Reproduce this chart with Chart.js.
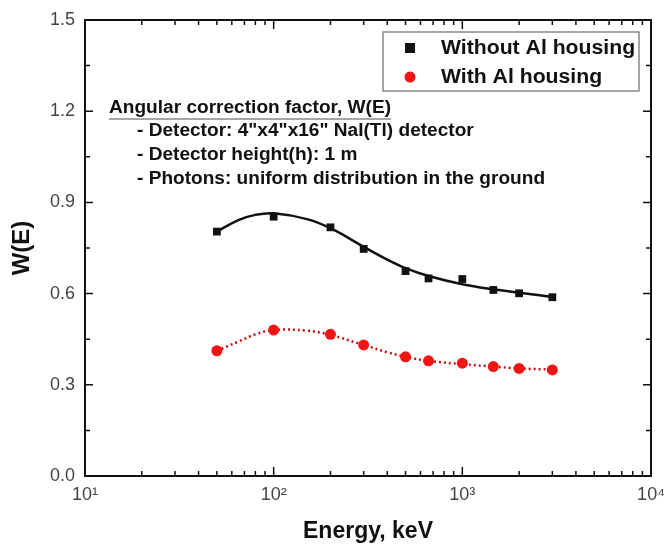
<!DOCTYPE html>
<html>
<head>
<meta charset="utf-8">
<script src="https://cdn.jsdelivr.net/npm/chart.js@4.4.0/dist/chart.umd.min.js"></script>
<style>
  html, body { margin: 0; padding: 0; background: #fff; }
</style>
</head>
<body>
<canvas id="chart" width="666" height="547"></canvas>
<script>
// measured points
const energies = [50, 100, 200, 300, 500, 662, 1000, 1460, 2000, 3000];
const withoutAl = [0.804, 0.853, 0.818, 0.747, 0.674, 0.650, 0.648, 0.612, 0.601, 0.588];
const withAl = [0.412, 0.480, 0.466, 0.431, 0.392, 0.379, 0.371, 0.360, 0.354, 0.349];

// fitted curves
const fitEnergies = [50, 65, 80, 100, 150, 200, 300, 400, 500, 662, 1000, 1460, 2000, 3000];
const fitWithout = [0.804, 0.842, 0.859, 0.864, 0.845, 0.815, 0.754, 0.712, 0.684, 0.658, 0.631, 0.614, 0.603, 0.589];
const fitWith = [0.412, 0.442, 0.466, 0.480, 0.478, 0.464, 0.431, 0.407, 0.392, 0.379, 0.368, 0.360, 0.354, 0.350];

const yTicks = [0, 0.3, 0.6, 0.9, 1.2, 1.5];
const xDecades = [10, 100, 1000, 10000];
const xTickLabels = ['10\u00b9', '10\u00b2', '10\u00b3', '10\u2074'];
const legendLabels = ['Without Al housing', 'With Al housing'];
const noteTitle = 'Angular correction factor, W(E)';
const noteLines = [
    '- Detector: 4"x4"x16" NaI(Tl) detector',
    '- Detector height(h): 1 m',
    '- Photons: uniform distribution in the ground'
];

const RED = '#f01414';
const FONT = '"Liberation Sans", Arial, sans-serif';
const STRETCH = 1.06; // the source text is a little wider than Arial

const toXY = (xs, ys) => xs.map((v, i) => ({ x: v, y: ys[i] }));

function wideText(ctx, text, x, y) {
    ctx.save();
    ctx.translate(x, y);
    ctx.scale(STRETCH, 1);
    ctx.fillText(text, 0, 0);
    ctx.restore();
    return ctx.measureText(text).width * STRETCH;
}

// frame, inward ticks on all four sides, legend box and note text
const decorPlugin = {
    id: 'decor',
    afterDraw(chart) {
        const { ctx, chartArea: a, scales: { x, y } } = chart;
        ctx.save();
        ctx.strokeStyle = '#111';
        ctx.lineWidth = 1.5;
        ctx.beginPath();
        for (let d = 10; d < 10000; d *= 10) {
            for (let m = 1; m <= 10; m++) {
                const px = x.getPixelForValue(d * m);
                const len = (m === 1 || m === 10) ? 9 : 5;
                ctx.moveTo(px, a.bottom); ctx.lineTo(px, a.bottom - len);
                ctx.moveTo(px, a.top); ctx.lineTo(px, a.top + len);
            }
        }
        for (let i = 0; i <= 10; i++) {
            const py = y.getPixelForValue(i * 0.15);
            const len = i % 2 === 0 ? 8 : 5;
            ctx.moveTo(a.left, py); ctx.lineTo(a.left + len, py);
            ctx.moveTo(a.right, py); ctx.lineTo(a.right - len, py);
        }
        ctx.stroke();

        ctx.lineWidth = 2;
        ctx.strokeRect(a.left, a.top, a.right - a.left, a.bottom - a.top);

        // legend
        const lx = a.left + 298, ly = a.top + 12;
        ctx.strokeStyle = '#888';
        ctx.lineWidth = 1.5;
        ctx.strokeRect(lx, ly, 256, 59);
        ctx.font = 'bold 20px ' + FONT;
        ctx.textBaseline = 'middle';
        ctx.fillStyle = '#111';
        const rows = [ly + 16, ly + 45];
        ctx.fillRect(lx + 22, rows[0] - 5, 10, 10);
        ctx.fillStyle = RED;
        ctx.beginPath();
        ctx.arc(lx + 27, rows[1], 5.5, 0, Math.PI * 2);
        ctx.fill();
        ctx.fillStyle = '#111';
        legendLabels.forEach((t, i) => wideText(ctx, t, lx + 58, rows[i]));

        // note
        ctx.font = 'bold 18px ' + FONT;
        const nx = a.left + 24;
        const w = wideText(ctx, noteTitle, nx, a.top + 88);
        ctx.lineWidth = 1.5;
        ctx.beginPath();
        ctx.moveTo(nx, a.top + 99); ctx.lineTo(nx + w, a.top + 99);
        ctx.stroke();
        noteLines.forEach((t, i) => wideText(ctx, t, nx + 28, a.top + 111 + i * 24));
        ctx.restore();
    }
};

new Chart(document.getElementById('chart').getContext('2d'), {
    type: 'scatter',
    data: {
        datasets: [
            {
                label: legendLabels[0],
                data: toXY(energies, withoutAl),
                pointStyle: 'rect',
                pointRadius: 5.5,
                backgroundColor: '#111',
                borderColor: '#111',
                borderWidth: 0,
                order: 0
            },
            {
                label: legendLabels[1],
                data: toXY(energies, withAl),
                pointStyle: 'circle',
                pointRadius: 5.5,
                backgroundColor: RED,
                borderColor: RED,
                borderWidth: 0,
                order: 0
            },
            {
                label: 'fit without',
                data: toXY(fitEnergies, fitWithout),
                showLine: true,
                pointRadius: 0,
                borderColor: '#111',
                borderWidth: 2.5,
                tension: 0.4,
                order: 1
            },
            {
                label: 'fit with',
                data: toXY(fitEnergies, fitWith),
                showLine: true,
                pointRadius: 0,
                borderColor: '#c81010',
                borderWidth: 2.5,
                borderDash: [2, 3],
                tension: 0.4,
                order: 1
            }
        ]
    },
    options: {
        responsive: false,
        animation: false,
        devicePixelRatio: 1,
        layout: { padding: { top: 20, right: 15, left: 0, bottom: 0 } },
        plugins: { legend: { display: false }, tooltip: { enabled: false } },
        scales: {
            x: {
                type: 'logarithmic',
                min: 10,
                max: 10000,
                afterBuildTicks: (s) => { s.ticks = xDecades.map(v => ({ value: v })); },
                afterFit: (s) => { s.height = 71; s.paddingLeft = 0; s.paddingRight = 0; },
                grid: { display: false, drawTicks: false },
                border: { display: false },
                ticks: {
                    padding: 8,
                    color: '#444',
                    font: { family: FONT, size: 18 },
                    callback: (v, i) => xTickLabels[i]
                },
                title: {
                    display: true,
                    text: 'Energy, keV',
                    color: '#111',
                    font: { family: FONT, size: 23, weight: 'bold' },
                    padding: { top: 0, bottom: 2 }
                }
            },
            y: {
                min: 0,
                max: 1.5,
                afterBuildTicks: (s) => { s.ticks = yTicks.map(v => ({ value: v })); },
                afterFit: (s) => { s.width = 85; s.paddingTop = 0; s.paddingBottom = 0; },
                grid: { display: false, drawTicks: false },
                border: { display: false },
                ticks: {
                    padding: 10,
                    color: '#444',
                    font: { family: FONT, size: 18 },
                    callback: (v) => v.toFixed(1)
                },
                title: {
                    display: true,
                    text: 'W(E)',
                    color: '#111',
                    font: { family: FONT, size: 24, weight: 'bold' },
                    padding: { top: 8, bottom: 0 }
                }
            }
        }
    },
    plugins: [decorPlugin]
});
</script>
</body>
</html>
